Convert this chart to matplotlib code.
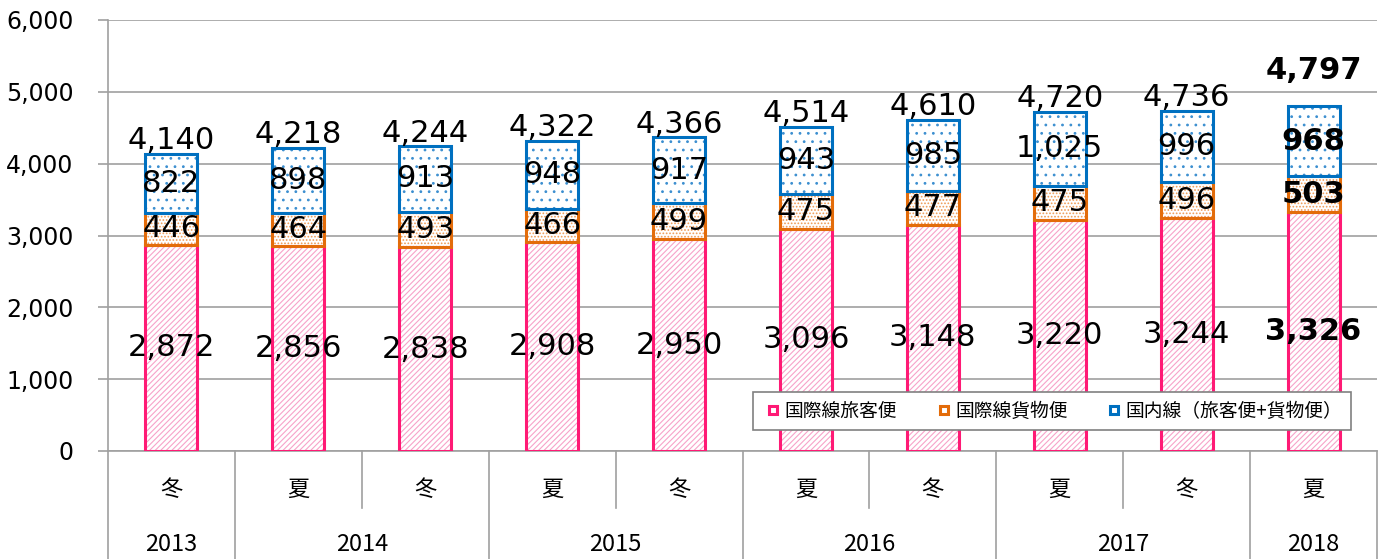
import numpy as np
import matplotlib
matplotlib.use('Agg')
from matplotlib import pyplot as plt
from matplotlib.lines import Line2D

plt.rcParams['font.family'] = ['DejaVu Sans', 'Noto Sans CJK JP']
plt.rcParams['hatch.linewidth'] = 0.8

seasons = ['冬', '夏', '冬', '夏', '冬', '夏', '冬', '夏', '冬', '夏']
years = ['2013', '2014', '2015', '2016', '2017', '2018']
year_span = [1, 2, 2, 2, 2, 1]
intl_pass = [2872, 2856, 2838, 2908, 2950, 3096, 3148, 3220, 3244, 3326]
intl_cargo = [446, 464, 493, 466, 499, 475, 477, 475, 496, 503]
domestic = [822, 898, 913, 948, 917, 943, 985, 1025, 996, 968]
totals = [4140, 4218, 4244, 4322, 4366, 4514, 4610, 4720, 4736, 4797]
names = ['国際線旅客便', '国際線貨物便', '国内線（旅客便+貨物便）']

PINK, PINK_H = '#FF1A75', '#F7A3C9'
ORANGE, ORANGE_H = '#E36C0A', '#EE9A55'
BLUE, BLUE_H = '#0070C0', '#3C8FD0'
GRID = '#A0A0A0'

fig = plt.figure(figsize=(13.83, 5.59), dpi=100)
ax = fig.add_axes([108/1383, 1 - 451/559, 1269/1383, 431/559])

x = np.arange(len(seasons))
w = 0.41
p = np.array(intl_pass)
c = np.array(intl_cargo)
d = np.array(domestic)

layers = [(p, 0, PINK, PINK_H, '//////'),
          (c, p, ORANGE, ORANGE_H, '.....'),
          (d, p + c, BLUE, BLUE_H, '..')]
for vals, bottom, col, hcol, hatch in layers:
    ax.bar(x, vals, w, bottom=bottom, color='white', edgecolor=hcol,
           hatch=hatch, linewidth=0, zorder=2)
    ax.bar(x, vals, w, bottom=bottom, fill=False, edgecolor=col,
           linewidth=2.2, zorder=3)

FS = 22
last = len(x) - 1
for i in x:
    bold = 'bold' if i == last else 'normal'
    ax.text(i, p[i] / 2, f'{p[i]:,}', ha='center', va='center', fontsize=FS,
            fontweight=bold, zorder=4)
    ax.text(i, p[i] + c[i] / 2, f'{c[i]:,}', ha='center', va='center', fontsize=FS,
            fontweight=bold, zorder=4)
    ax.text(i, p[i] + c[i] + d[i] / 2, f'{d[i]:,}', ha='center', va='center',
            fontsize=FS, fontweight=bold, zorder=4)
    if i == last:
        ax.text(i, totals[i] + 300, f'{totals[i]:,}', ha='center', va='bottom',
                fontsize=FS, fontweight='bold', zorder=4)
    else:
        ax.text(i, totals[i] - 20, f'{totals[i]:,}', ha='center', va='bottom',
                fontsize=FS, zorder=4)

ax.set_xlim(-0.5, len(x) - 0.5)
ax.set_ylim(0, 6000)
ax.set_yticks(np.arange(0, 6001, 1000))
ax.set_yticklabels([f'{v:,}' for v in range(0, 6001, 1000)], fontsize=17)
ax.yaxis.grid(True, color=GRID, linewidth=1.2, zorder=0)
ax.tick_params(axis='y', length=7, color=GRID, width=1.2, pad=18)
ax.set_xticks([])
for s in ['top', 'right']:
    ax.spines[s].set_visible(False)
ax.spines['left'].set_color(GRID)
ax.spines['bottom'].set_color(GRID)
ax.spines['left'].set_linewidth(1.2)
ax.spines['bottom'].set_linewidth(1.2)

# two-level category table below the axis
tr = ax.get_xaxis_transform()
y_season_line = -0.132
y_bottom = -0.26
for i in x:
    ax.text(i, -0.09, seasons[i], transform=tr, ha='center', va='center',
            fontsize=16, family='Noto Sans CJK JP')
edges = np.cumsum([0] + year_span) - 0.5
for k, yr in enumerate(years):
    mid = (edges[k] + edges[k + 1]) / 2
    ax.text(mid, -0.218, yr, transform=tr, ha='center', va='center',
            fontsize=17, family='Noto Sans CJK JP')
for e in edges:
    ax.plot([e, e], [0, y_bottom], transform=tr, color=GRID, lw=1.2, clip_on=False)
for k, span in enumerate(year_span):
    if span == 2:
        e = edges[k] + 1
        ax.plot([e, e], [0, y_season_line], transform=tr, color=GRID, lw=1.2,
                clip_on=False)

handles = [Line2D([], [], marker='s', linestyle='', markersize=6,
                  markerfacecolor='white', markeredgecolor=col, markeredgewidth=2.2)
           for col in (PINK, ORANGE, BLUE)]
leg = ax.legend(handles, names, loc='center', bbox_to_anchor=(0.744, 0.092),
                ncol=3, frameon=True, fancybox=False, framealpha=1,
                edgecolor='#808080', handletextpad=0.0, columnspacing=1.9,
                handlelength=1.2, borderpad=0.45, borderaxespad=0,
                prop={'family': 'Noto Sans CJK JP', 'size': 13.5})
leg.get_frame().set_linewidth(1.2)
leg.set_zorder(5)

fig.savefig('out.png', dpi=100)
